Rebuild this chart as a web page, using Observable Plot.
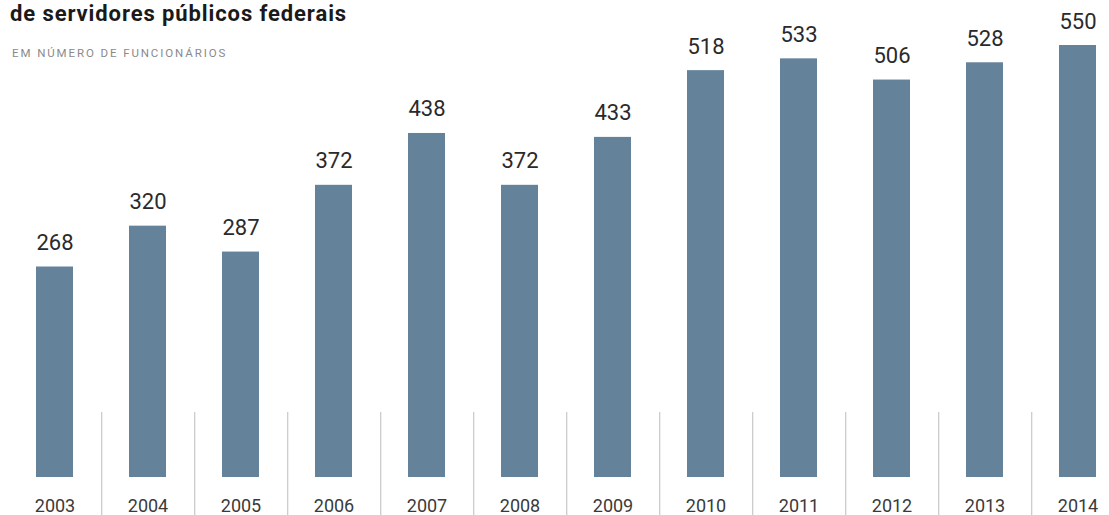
<!DOCTYPE html>
<html>
<head>
<meta charset="utf-8">
<script src="https://cdn.jsdelivr.net/npm/d3@7"></script>
<script src="https://cdn.jsdelivr.net/npm/@observablehq/plot@0.6"></script>
<style>
  html, body { margin: 0; padding: 0; background: #fff; }
  #wrap { position: relative; width: 1109px; height: 515px; overflow: hidden; }
  #title { position: absolute; left: 10px; top: 2px; line-height: 24px; font-family: Roboto, sans-serif; font-weight: 700; font-size: 22px; letter-spacing: 0.9px; color: #1a1a1a; white-space: nowrap; }
  #subtitle { position: absolute; left: 12px; top: 46px; font-family: Roboto, sans-serif; font-size: 11.5px; color: #8a8a8a; letter-spacing: 1.9px; white-space: nowrap; }
  #chart { position: absolute; left: 0; top: 0; }
</style>
</head>
<body>
<div id="wrap">
  <div id="chart"></div>
  <div id="title">de servidores públicos federais</div>
  <div id="subtitle">EM NÚMERO DE FUNCIONÁRIOS</div>
</div>
<script>
const years = ["2003","2004","2005","2006","2007","2008","2009","2010","2011","2012","2013","2014"];
const values = [268, 320, 287, 372, 438, 372, 433, 518, 533, 506, 528, 550];
const data = years.map((y, i) => ({year: y, value: values[i]}));
const separators = years.slice(0, -1);

const W = 1109, H = 515;
const mL = 33, mR = 10, pIn = 0.6;
const step = (W - mL - mR) / (years.length - pIn);

const chart = Plot.plot({
  width: W,
  height: H,
  marginLeft: mL,
  marginRight: mR,
  marginTop: 45,
  marginBottom: 38,
  style: {background: "transparent", fontFamily: "Roboto, sans-serif"},
  x: {domain: years, paddingInner: pIn, paddingOuter: 0, label: null},
  y: {domain: [0, 550], axis: null},
  marks: [
    Plot.ruleX(separators, {x: d => d, dx: step / 2, stroke: "#bdbdbd", strokeWidth: 1, insetTop: 367, insetBottom: -38}),
    Plot.barY(data, {x: "year", y: "value", fill: "#64829a"}),
    Plot.text(data, {x: "year", y: "value", text: d => String(d.value), dy: -17, lineAnchor: "bottom", fontSize: 22, fill: "#2a2a2a"}),
    Plot.axisX({tickSize: 0, tickPadding: 22, fontSize: 18, color: "#3a3a3a", label: null})
  ]
});
document.getElementById("chart").appendChild(chart);
</script>
</body>
</html>
